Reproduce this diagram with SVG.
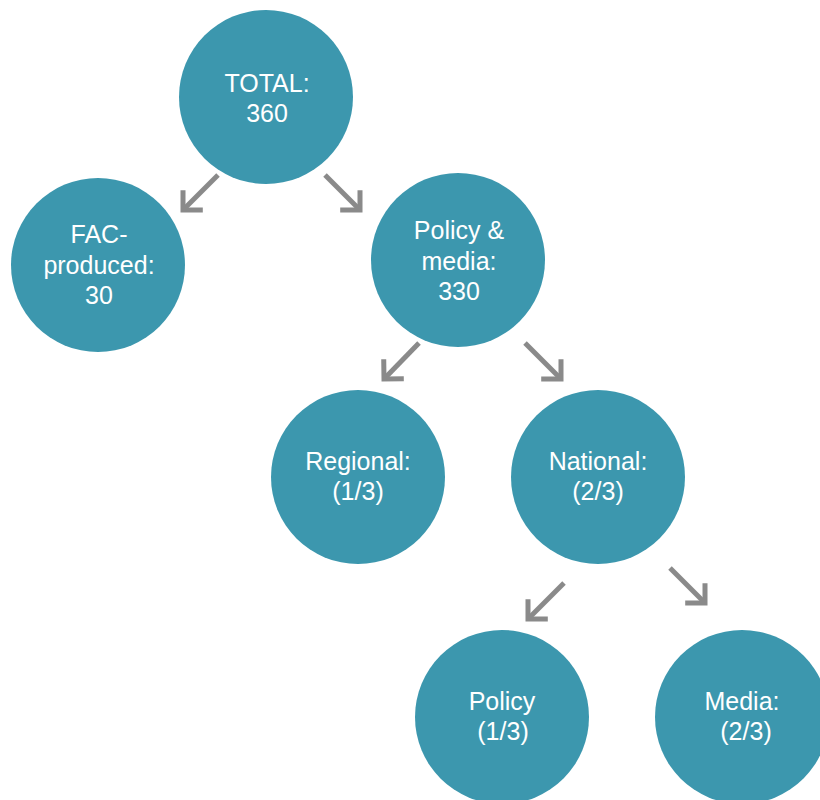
<svg xmlns="http://www.w3.org/2000/svg" width="820" height="800" viewBox="0 0 820 800">
<style>
.node circle{fill:#3c97ae}
.node text{fill:#ffffff;font-family:"Liberation Sans",Arial,sans-serif;font-size:25px;text-anchor:middle}
.conn path{fill:none;stroke:#8a8a8a;stroke-width:5;marker-end:url(#ah)}
</style>
<defs>
<marker id="ah" markerUnits="userSpaceOnUse" viewBox="-20 -20 30 40" refX="0" refY="0" markerWidth="30" markerHeight="40" orient="auto" overflow="visible">
<path d="M-14,-14 L0,0 L-14,14" fill="none" stroke="#8a8a8a" stroke-width="5" stroke-linejoin="miter"/>
</marker>
</defs>
<rect width="820" height="800" fill="#ffffff"/>
<g id="connectors" class="conn">
<path d="M218,175 L183,210"/>
<path d="M325,175 L360,210"/>
<path d="M419,343 L384,379"/>
<path d="M525,343 L561,379"/>
<path d="M564,583 L528,619"/>
<path d="M670,568 L705,603"/>
</g>
<g id="total" class="node">
<circle cx="266" cy="97" r="87"/>
<text x="267" y="92">TOTAL:</text>
<text x="267" y="122">360</text>
</g>
<g id="fac" class="node">
<circle cx="98" cy="265" r="87"/>
<text x="99" y="243">FAC-</text>
<text x="99" y="274">produced:</text>
<text x="99" y="304">30</text>
</g>
<g id="policymedia" class="node">
<circle cx="458" cy="260" r="87"/>
<text x="459" y="239">Policy &amp;</text>
<text x="459" y="270">media:</text>
<text x="459" y="300">330</text>
</g>
<g id="regional" class="node">
<circle cx="358" cy="477" r="87"/>
<text x="358" y="470">Regional:</text>
<text x="358" y="500">(1/3)</text>
</g>
<g id="national" class="node">
<circle cx="598" cy="477" r="87"/>
<text x="598" y="470">National:</text>
<text x="598" y="500">(2/3)</text>
</g>
<g id="policy" class="node">
<circle cx="502" cy="717" r="87"/>
<text x="502" y="710">Policy</text>
<text x="503" y="740">(1/3)</text>
</g>
<g id="media" class="node">
<circle cx="742" cy="717" r="87"/>
<text x="742" y="710">Media:</text>
<text x="746" y="740">(2/3)</text>
</g>
</svg>
